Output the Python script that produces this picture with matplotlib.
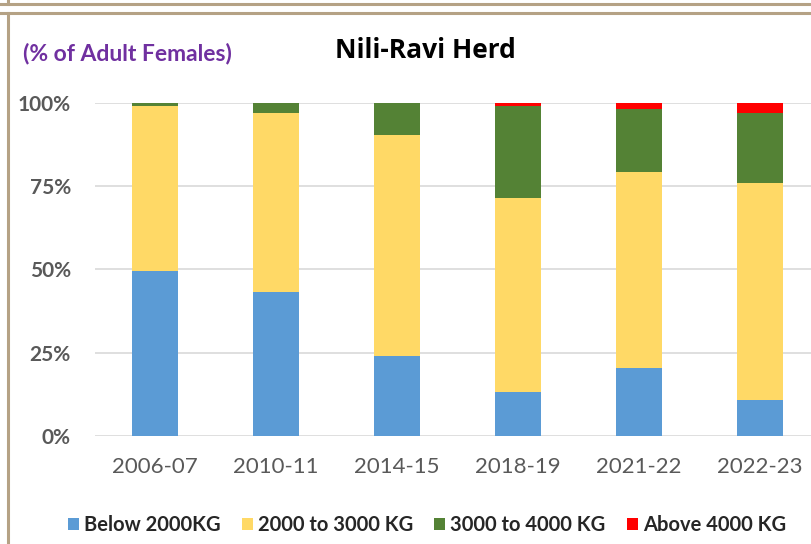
import matplotlib.pyplot as plt
from matplotlib.lines import Line2D
from matplotlib.patches import Patch
import numpy as np

years = ['2006-07', '2010-11', '2014-15', '2018-19', '2021-22', '2022-23']
below_2000 = [49.5, 43.1, 24.0, 13.1, 20.5, 10.8]
from_2000_3000 = [49.5, 53.7, 66.3, 58.2, 58.8, 65.2]
from_3000_4000 = [1.0, 3.2, 9.7, 27.7, 18.7, 20.8]
above_4000 = [0.0, 0.0, 0.0, 1.0, 2.0, 3.2]

series = [below_2000, from_2000_3000, from_3000_4000, above_4000]
names = ['Below 2000KG', '2000 to 3000 KG', '3000 to 4000 KG', 'Above 4000 KG']
colors = ['#5B9BD5', '#FFD966', '#548235', '#FF0000']

lato = ['Lato', 'DejaVu Sans']
osans = ['Open Sans', 'DejaVu Sans']
tick_grey = '#595959'

fig = plt.figure(figsize=(8.11, 5.44), dpi=100)
fig.patch.set_facecolor('white')
W, H = 811.0, 544.0

ax = fig.add_axes([94.5 / W, 108 / H, 726 / W, 333.3 / H])
x = np.arange(len(years))
bottom = np.zeros(len(years))
for vals, c, n in zip(series, colors, names):
    ax.bar(x, vals, width=0.386, bottom=bottom, color=c, label=n, zorder=3)
    bottom += np.array(vals)

ax.set_xlim(-0.5, 5.5)
ax.set_ylim(0, 100)
ax.set_yticks([0, 25, 50, 75, 100])
ax.set_yticklabels(['0%', '25%', '50%', '75%', '100%'])
ax.grid(axis='y', color='#D9D9D9', linewidth=1.2, zorder=0)
for s in ax.spines.values():
    s.set_visible(False)
ax.tick_params(axis='y', length=0, pad=17, labelcolor=tick_grey)
ax.tick_params(axis='x', length=0, pad=15, labelcolor=tick_grey)
ax.set_xticks(x)
ax.set_xticklabels(years, family=lato, fontsize=16)
for lbl in ax.get_yticklabels():
    lbl.set_family(lato)
    lbl.set_fontweight('bold')
    lbl.set_fontsize(15)

fig.text(425 / W, 1 - 50 / H, 'Nili-Ravi Herd', ha='center', va='center',
         fontsize=19, fontweight='bold', color='black', family=osans)
fig.text(23 / W, 1 - 53 / H, '(% of Adult Females)', ha='left', va='center',
         fontsize=16.5, fontweight='bold', color='#7030A0', family=lato)

handles = [Patch(facecolor=c, edgecolor='none') for c in colors]
fig.legend(handles, names, loc='center', bbox_to_anchor=(427 / W, 1 - 525 / H), ncol=4,
           frameon=False, handlelength=0.55, handleheight=0.55, handletextpad=0.25,
           columnspacing=1.05, prop={'family': lato, 'weight': 'bold', 'size': 14.5},
           labelcolor='#262626')

# frame lines
border = '#B5A285'
fig.add_artist(Line2D([0, 1], [1 - 3.5 / H, 1 - 3.5 / H], color=border, lw=2.2))
fig.add_artist(Line2D([0, 1], [1 - 12.5 / H, 1 - 12.5 / H], color=border, lw=2.2))
fig.add_artist(Line2D([7.5 / W, 7.5 / W], [0, 1 - 12.5 / H], color=border, lw=2.2))
fig.add_artist(Line2D([7.5 / W, 7.5 / W], [1 - 3.5 / H, 1], color=border, lw=2.2))

fig.savefig('out.png', dpi=100)
